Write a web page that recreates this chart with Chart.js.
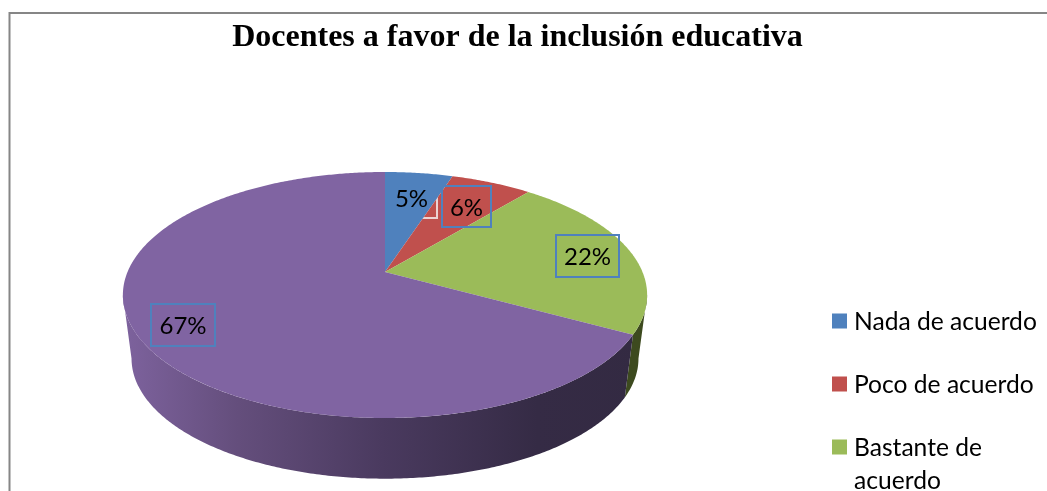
<!DOCTYPE html>
<html>
<head>
<meta charset="utf-8">
<style>
    html, body { margin: 0; padding: 0; background: #fff; overflow: hidden; }
    #wrap { width: 1047px; height: 491px; position: relative; }
</style>
<script src="https://cdn.jsdelivr.net/npm/chart.js@4"></script>
</head>
<body>
<div id="wrap"><canvas id="chart" width="1047" height="491"></canvas></div>
<script>
const chartTitle = 'Docentes a favor de la inclusión educativa';
const categories = ['Nada de acuerdo', 'Poco de acuerdo', ['Bastante de', 'acuerdo'], 'Muy de acuerdo'];
const percentages = [5, 6, 22, 67];
const sliceColors = ['#4f81bd', '#c0504d', '#9bbb59', '#8064a2'];

// tilted disc: apex of the slices, rim size and perspective strength
const disc = { x: 385, y: 272, rx: 257.5, ry: 118.7, k: 0.187 };
// lower rim of the wall
const base = { x: 385, y: 336, rx: 249, ry: 116, k: 0.187 };

// wall shading, one gradient per slice
const wallStops = [
    [[0, '#2f3d5a'], [1, '#2f3d5a']],
    [[0, '#5c2a28'], [1, '#5c2a28']],
    [[0, '#3d4a1f'], [1, '#3d4a1f']],
    [[0, '#7d629d'], [0.22, '#644e7c'], [0.5, '#4a3a5f'], [0.8, '#352b45'], [1, '#332a42']],
];
const labelBoxes = [
    { left: 386, top: 177, right: 437, bottom: 218 },
    { left: 442, top: 186, right: 491, bottom: 227 },
    { left: 556, top: 235, right: 619, bottom: 277 },
    { left: 151, top: 304, right: 215, bottom: 346 },
];
const legendRows = [321, 384, 447];

// Projects an angle on the rim to canvas coordinates
const rimPoint = (geo, angle) => {
    const u = Math.cos(angle);
    const v = Math.sin(angle);
    const w = 1 - geo.k * v;
    return [geo.x + geo.rx * u / w, geo.y + geo.ry * v / w];
};

const traceRim = (ctx, geo, from, to) => {
    const steps = Math.max(2, Math.ceil(Math.abs(to - from) / 0.01));
    for (let i = 0; i <= steps; i++) {
        const [x, y] = rimPoint(geo, from + (to - from) * i / steps);
        ctx.lineTo(x, y);
    }
};

const wallGradient = (ctx, stops) => {
    const gradient = ctx.createLinearGradient(125, 0, 640, 0);
    for (const [at, color] of stops)
        gradient.addColorStop(at, color);
    return gradient;
};

// Only the part of a slice on the near side of the rim has a visible wall
const drawWall = (ctx, arc, stops) => {
    const nearFrom = Math.asin(disc.k);
    const nearTo = Math.PI - nearFrom;
    const from = Math.max(arc.startAngle, nearFrom);
    const to = Math.min(arc.endAngle, nearTo);
    if (from >= to)
        return;

    ctx.beginPath();
    traceRim(ctx, disc, from, to);
    traceRim(ctx, base, to, from);
    ctx.closePath();
    ctx.fillStyle = wallGradient(ctx, stops);
    ctx.fill();
};

const faceOutline = (ctx, arc) => {
    ctx.beginPath();
    ctx.moveTo(disc.x, disc.y);
    traceRim(ctx, disc, arc.startAngle, arc.endAngle);
    ctx.closePath();
};

const drawLabels = (chart) => {
    const { ctx } = chart;
    const arcs = chart.getDatasetMeta(0).data;
    ctx.font = '24px Lato';
    ctx.textAlign = 'center';
    ctx.textBaseline = 'middle';
    percentages.forEach((value, i) => {
        const box = labelBoxes[i];
        const w = box.right - box.left;
        const h = box.bottom - box.top;
        ctx.strokeStyle = '#4f81bd';
        ctx.lineWidth = 2;
        ctx.strokeRect(box.left, box.top, w, h);
        if (i == 0) {
            // the first box shows up pale where it crosses the red slice
            ctx.save();
            faceOutline(ctx, arcs[1]);
            ctx.clip();
            ctx.strokeStyle = '#ecd3d2';
            ctx.strokeRect(box.left, box.top, w, h);
            ctx.restore();
        }
        ctx.fillStyle = '#000';
        ctx.fillText(`${value}%`, box.left + w / 2, box.top + h / 2 + 1.5);
    });
};

const drawLegend = (chart) => {
    const { ctx } = chart;
    ctx.font = '24.6px Lato';
    ctx.textAlign = 'left';
    ctx.textBaseline = 'middle';
    legendRows.forEach((y, i) => {
        ctx.fillStyle = sliceColors[i];
        ctx.fillRect(832, y - 7.5, 15, 15);
        ctx.fillStyle = '#000';
        [].concat(categories[i]).forEach((line, n) => ctx.fillText(line, 854, y + 1 + n * 33));
    });
};

const tiltedPie = {
    id: 'tiltedPie',
    beforeDraw(chart) {
        const { ctx, width, height } = chart;
        ctx.save();
        ctx.fillStyle = '#fff';
        ctx.fillRect(0, 0, width, height);
        ctx.strokeStyle = '#868686';
        ctx.lineWidth = 2;
        ctx.beginPath();
        ctx.moveTo(9.5, height);
        ctx.lineTo(9.5, 13);
        ctx.lineTo(width, 13);
        ctx.stroke();
        ctx.restore();
    },
    beforeDatasetDraw(chart, args) {
        const { ctx } = chart;
        const arcs = chart.getDatasetMeta(args.index).data;
        ctx.save();
        arcs.forEach((arc, i) => drawWall(ctx, arc, wallStops[i]));
        arcs.forEach(arc => {
            faceOutline(ctx, arc);
            ctx.fillStyle = arc.options.backgroundColor;
            ctx.fill();
        });
        ctx.restore();
        return false;
    },
    afterDatasetsDraw(chart) {
        chart.ctx.save();
        drawLabels(chart);
        drawLegend(chart);
        chart.ctx.restore();
    },
};

const createChart = () => {
    const config = {
        type: 'pie',
        data: {
            labels: categories,
            datasets: [{
                data: percentages,
                backgroundColor: sliceColors,
                borderWidth: 0,
            }],
        },
        options: {
            responsive: false,
            animation: false,
            layout: { padding: { right: 12 } },
            plugins: {
                title: {
                    display: true,
                    text: chartTitle,
                    color: '#000',
                    font: { family: 'Liberation Serif', size: 32, weight: 'bold' },
                    padding: { top: 19, bottom: 10 },
                },
                legend: { display: false },
                tooltip: { enabled: false },
            },
        },
        plugins: [tiltedPie],
    };

    new Chart(document.getElementById('chart'), config);
};

createChart();
</script>
</body>
</html>
